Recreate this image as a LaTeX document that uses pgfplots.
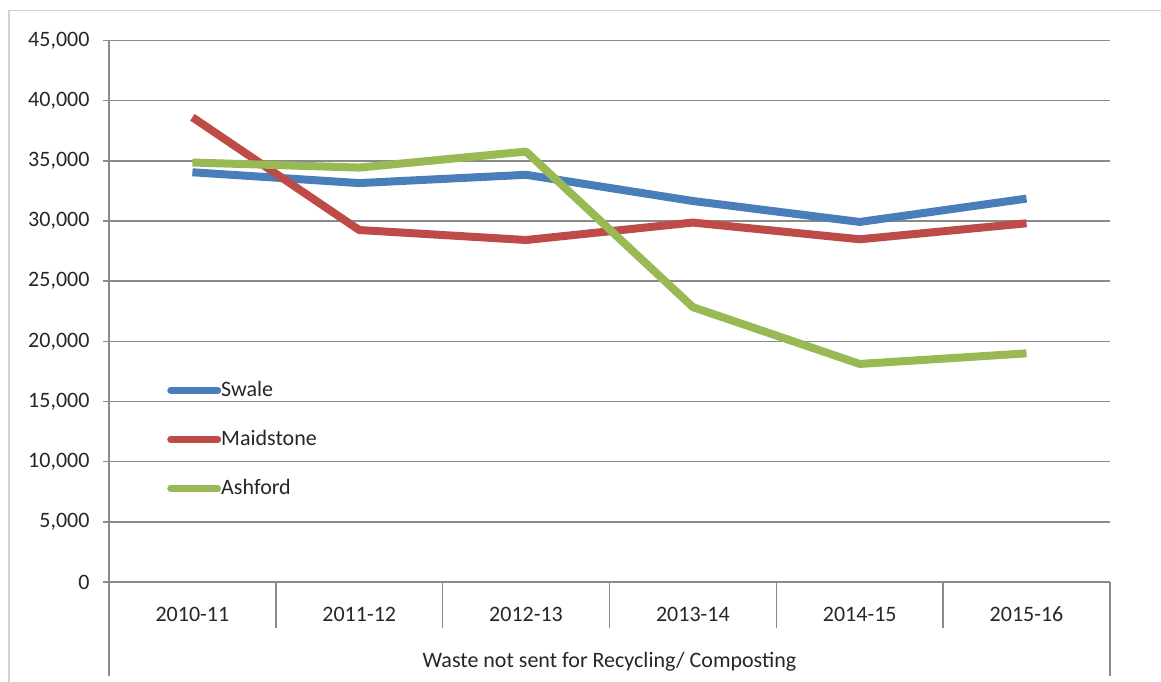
\documentclass[border=0pt]{standalone}
\usepackage{fontspec}
\setmainfont{Carlito}
\usepackage{pgfplots}
\pgfplotsset{compat=1.18}
\definecolor{swale}{HTML}{4A7EBB}
\definecolor{maid}{HTML}{BE4B48}
\definecolor{ash}{HTML}{98B954}
\definecolor{gridg}{HTML}{8A8A8A}
\definecolor{txt}{HTML}{262626}
\begin{document}
\begin{tikzpicture}[font=\fontsize{22}{26}\selectfont]
\path[use as bounding box] (0pt,0pt) rectangle (1161pt,682pt);
\draw[color=gray!35, line width=1.5pt] (9pt,0pt) -- (9pt,671.3pt) -- (1161pt,671.3pt);
\begin{axis}[
  at={(109pt,100pt)}, anchor=south west,
  scale only axis, width=1001pt, height=541.5pt,
  xmin=-0.5, xmax=5.5, ymin=0, ymax=45000,
  axis x line*=bottom, axis y line*=left,
  axis line style={-, draw=gridg, line width=1.5pt},
  ytick={0,5000,...,45000},
  ymajorgrids, major grid style={draw=gridg, line width=1.5pt},
  scaled y ticks=false,
  /pgf/number format/.cd, 1000 sep={,}, assume math mode=true, /pgfplots/.cd,
  xtick={0,...,5},
  xticklabels={2010-11,2011-12,2012-13,2013-14,2014-15,2015-16},
  major x tick style={draw=none},
  minor xtick={0.5,1.5,...,4.5},
  minor tick length=46pt,
  extra x ticks={-0.5,5.5}, extra x tick labels={},
  extra x tick style={major tick length=94pt, major x tick style={draw=gridg, line width=1.5pt}},
  tick align=outside, major tick length=6pt,
  tick style={draw=gridg, line width=1.5pt},
  ticklabel style={color=txt},
  yticklabel style={xshift=-10pt},
  xticklabel style={anchor=center, yshift=-26pt},
  xlabel={Waste not sent for Recycling/ Composting},
  xlabel style={at={(axis description cs:0.5,0)}, anchor=center, yshift=-80pt, color=txt},
  legend style={at={(rel axis cs:0.055,0.377)}, anchor=north west, draw=none, fill=none,
    row sep=28pt, nodes={inner sep=0pt, text height=16pt, text depth=5pt, text=txt}},
  legend cell align=left,
  legend image code/.code={\draw[#1, line width=7pt, line cap=round] (0pt,0pt) -- (47pt,0pt);},
  every axis plot/.append style={line width=8pt, line join=round},
]
\addplot[color=swale] coordinates {(0,34050) (1,33150) (2,33840) (3,31660) (4,29920) (5,31860)};
\addlegendentry{Swale}
\addplot[color=maid] coordinates {(0,38620) (1,29250) (2,28420) (3,29870) (4,28480) (5,29810)};
\addlegendentry{Maidstone}
\addplot[color=ash] coordinates {(0,34860) (1,34440) (2,35770) (3,22840) (4,18120) (5,19000)};
\addlegendentry{Ashford}
\end{axis}
\end{tikzpicture}
\end{document}
